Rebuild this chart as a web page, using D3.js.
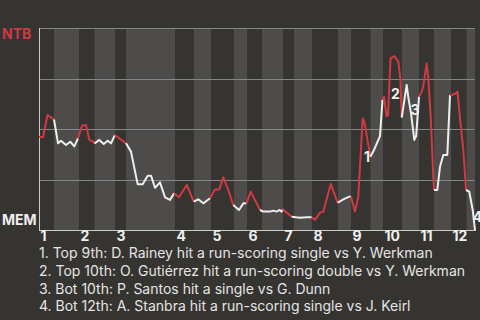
<!DOCTYPE html>
<html>
<head>
<meta charset="utf-8">
<script src="https://cdn.jsdelivr.net/npm/d3@7"></script>
<style>
  html, body { margin: 0; padding: 0; background: #363431; }
  svg { display: block; font-family: Inter, Roboto, sans-serif; }
</style>
</head>
<body>
<div id="chart"></div>
<script>
//
// Data
//
// game progress (% of game) where each half inning begins, plus the end
var halfStarts = [0, 3.44, 9.17, 12.73, 17.43, 19.95, 31.19, 35.55, 39.45, 44.72,
    47.71, 51.15, 55.96, 58.49, 62.61, 68.58, 71.56, 76.03, 78.90, 83.26,
    87.16, 90.60, 94.50, 98.05, 100];
var innings = ["1", "2", "3", "4", "5", "6", "7", "8", "9", "10", "11", "12"];

// win probability points: progress % and NTB win %
var progress = [
    0, 0.92, 1.95, 3.44,
    4.36, 5.05, 6.19, 7.18, 8.10, 8.94,
    9.86, 10.78, 11.54, 12.45, 12.73,
    13.83, 14.84, 15.76, 16.51, 17.40,
    19.95,
    21.10, 22.64, 23.78, 24.93, 25.69, 26.61, 27.75, 28.90, 30.05, 31.00,
    32.11, 33.88, 35.50,
    36.54, 37.68, 39.22,
    40.37, 41.35, 42.27, 43.42, 44.56,
    45.87, 46.86, 47.59,
    48.56, 50.69,
    51.44, 52.98, 53.74, 54.52, 55.11, 55.66, 55.90,
    56.81, 57.96,
    58.94, 59.86, 61.40, 62.55,
    63.30, 64.45, 65.21, 66.90, 68.50,
    69.79, 71.17, 71.56,
    72.48, 73.23, 74.24, 74.66, 76.00,
    76.83, 78.21, 78.78,
    79.13, 79.70, 80.05, 80.62, 81.54, 82.41, 82.91, 83.20,
    84.33, 84.70, 85.32, 86.08, 86.50, 87.16,
    87.78, 88.14, 88.92, 89.29, 89.84, 90.44, 90.60,
    91.35, 91.97, 92.73, 93.65, 94.27,
    94.66, 95.64, 95.99, 96.56, 97.32, 97.94,
    98.69, 99.47, 100];
var ntbWin = [
    46.0, 46.0, 56.9, 54.7,
    42.9, 44.2, 42.1, 43.7, 41.4, 45.4,
    51.6, 52.0, 44.6, 43.7, 42.8,
    44.6, 42.6, 44.2, 42.9, 47.0,
    42.9,
    38.8, 22.6, 22.6, 26.9, 26.9, 20.9, 23.6, 16.2, 14.9, 18.2,
    16.2, 22.3, 14.0,
    15.2, 13.2, 15.7,
    20.1, 20.1, 26.1, 19.8, 12.4,
    9.9, 13.2, 13.2,
    19.0, 9.9,
    9.1, 9.1, 9.6, 9.1, 9.9, 9.1, 10.2,
    8.6, 6.6,
    6.3, 6.1, 6.3, 6.3,
    5.0, 8.6, 9.1, 22.8, 13.5,
    15.2, 16.5, 16.5,
    9.1, 16.5, 55.3, 53.0, 36.3,
    39.6, 46.5, 64.4,
    66.0, 56.4, 56.7, 85.0, 86.1, 83.3, 74.3, 55.7,
    71.8, 65.8, 57.8, 44.6, 46.5, 66.0,
    68.5, 71.3, 82.5, 75.2, 56.1, 26.4, 19.8,
    19.8, 31.3, 37.1, 37.1, 66.8,
    66.8, 67.7, 68.5, 55.3, 39.6, 19.8,
    19.0, 9.9, 0];

// key plays
var noteNums = ["1", "2", "3", "4"];
var noteX = [75.23, 81.72, 86.24, 100.57];
var noteY = [36.1, 67.3, 59.4, 6.4];
var notes = [
    "1. Top 9th: D. Rainey hit a run-scoring single vs Y. Werkman",
    "2. Top 10th: O. Gutiérrez hit a run-scoring double vs Y. Werkman",
    "3. Bot 10th: P. Santos hit a single vs G. Dunn",
    "4. Bot 12th: A. Stanbra hit a run-scoring single vs J. Keirl"];

//
// Global Vars
//
var width = 480,
    height = 320,
    plotLeft = 39,
    plotRight = 475,
    plotTop = 28,
    plotBottom = 230,
    red = "#cf3a43",
    white = "#eeeeee";

var svg = d3.select("#chart").append("svg")
    .attr("width", width)
    .attr("height", height);

var x = d3.scaleLinear().domain([0, 100]).range([plotLeft, plotRight]);
var y = d3.scaleLinear().domain([0, 100]).range([plotBottom, plotTop]);

// half inning stripes (bottom halves lighter)
var halves = d3.range(halfStarts.length - 1);
svg.append("g").selectAll("rect")
    .data(halves.filter(function(i) { return i % 2 == 1; }))
    .enter().append("rect")
    .attr("x", function(i) { return x(halfStarts[i]); })
    .attr("width", function(i) { return x(halfStarts[i + 1]) - x(halfStarts[i]); })
    .attr("y", plotTop)
    .attr("height", plotBottom - plotTop)
    .attr("fill", "#4d4c4a");

// gridlines
svg.append("g").selectAll("line")
    .data([25, 50, 75, 100])
    .enter().append("line")
    .attr("x1", plotLeft)
    .attr("x2", plotRight)
    .attr("y1", function(d) { return Math.round(y(d)) + 0.5; })
    .attr("y2", function(d) { return Math.round(y(d)) + 0.5; })
    .attr("stroke", "#858585")
    .attr("stroke-width", 1);

// left axis line
svg.append("line")
    .attr("x1", plotLeft + 0.5).attr("x2", plotLeft + 0.5)
    .attr("y1", plotTop).attr("y2", plotBottom)
    .attr("stroke", "#cccccc");

// inning axis
var topStarts = innings.map(function(d, i) { return halfStarts[i * 2]; });
var xAxis = d3.axisBottom(x)
    .tickValues(topStarts)
    .tickSize(0)
    .tickPadding(1)
    .tickFormat(function(d, i) { return innings[i]; });

var axisG = svg.append("g")
    .attr("transform", "translate(0," + (plotBottom + 0.5) + ")")
    .call(xAxis);
axisG.select(".domain").attr("stroke", "#cccccc").attr("d", "M" + plotLeft + ",0H" + (plotRight + 1));
axisG.selectAll("text")
    .attr("text-anchor", "start")
    .attr("dx", 1)
    .attr("fill", white)
    .attr("font-size", 14)
    .attr("font-weight", "bold")
    .attr("font-family", "Inter, Roboto, sans-serif");

// win probability line, one path per half inning
var points = progress.map(function(p, i) { return [p, ntbWin[i]]; });
var line = d3.line()
    .x(function(d) { return x(d[0]); })
    .y(function(d) { return y(d[1]); });

function halfOf(p) {
    return Math.max(0, d3.bisectLeft(halfStarts, p) - 1);
}

var segs = [];
points.forEach(function(d, i) {
    var h = halfOf(d[0]);
    if (!segs.length || segs[segs.length - 1].half != h) {
        var s = { half: h, pts: [] };
        if (i > 0) s.pts.push(points[i - 1]);
        segs.push(s);
    }
    segs[segs.length - 1].pts.push(d);
});

svg.append("g").selectAll("path")
    .data(segs)
    .enter().append("path")
    .attr("d", function(s) { return line(s.pts); })
    .attr("fill", "none")
    .attr("stroke", function(s) { return s.half % 2 == 0 ? red : white; })
    .attr("stroke-width", 2)
    .attr("stroke-linejoin", "round");

// key play markers
svg.append("g").selectAll("text")
    .data(noteNums)
    .enter().append("text")
    .attr("x", function(d, i) { return x(noteX[i]); })
    .attr("y", function(d, i) { return y(noteY[i]); })
    .attr("dy", "0.36em")
    .attr("text-anchor", "middle")
    .attr("font-size", 14)
    .attr("font-weight", "bold")
    .attr("fill", white)
    .text(function(d) { return d; });

// team labels
svg.append("text")
    .attr("x", 2).attr("y", 39)
    .attr("font-size", 14).attr("font-weight", "bold")
    .attr("fill", red)
    .text("NTB");
svg.append("text")
    .attr("x", 2).attr("y", 225)
    .attr("font-size", 14).attr("font-weight", "bold")
    .attr("fill", white)
    .text("MEM");

// notes
svg.append("g").selectAll("text")
    .data(notes)
    .enter().append("text")
    .attr("x", 39)
    .attr("y", function(d, i) { return 258 + i * 17.8; })
    .attr("font-size", 14)
    .attr("fill", "#e4e4e4")
    .text(function(d) { return d; });
</script>
</body>
</html>
